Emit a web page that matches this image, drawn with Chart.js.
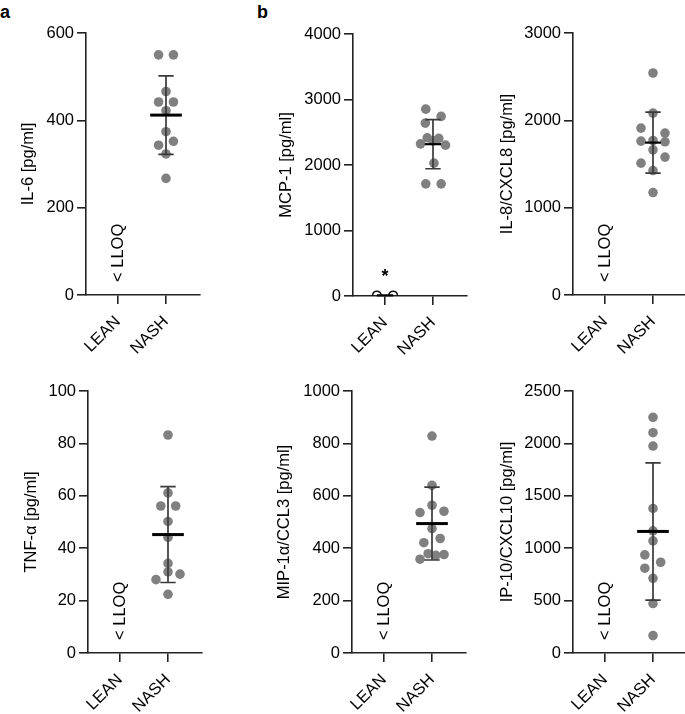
<!DOCTYPE html>
<html><head><meta charset="utf-8">
<script src="https://cdn.jsdelivr.net/npm/chart.js@4.4.0/dist/chart.umd.min.js"></script>
<style>
body{margin:0;background:#fff;}
#wrap{position:relative;width:685px;height:714px;overflow:hidden;background:#fff;font-family:"Liberation Sans",Arial,sans-serif;}
.panel{position:absolute;}
.lab{position:absolute;font-weight:bold;font-size:18px;line-height:18px;color:#000;}
</style></head><body><div id="wrap">
<div class="lab" style="left:0px;top:3px">a</div>
<div class="lab" style="left:257px;top:3px">b</div>
</div>
<script>
// ---------- data ----------
const groups = ['LEAN', 'NASH'];

const il6Nash   = [550, 550, 466, 442, 442, 422, 374, 343, 352, 323, 267];
const il6Spread = [-0.155, 0.155, 0, -0.155, 0.155, 0, 0, -0.155, 0.155, 0, 0];
const il6Mean   = [null, 412];
const il6Sd     = [null, 90];

const mcpLean       = [8, 8];
const mcpLeanSpread = [-0.17, 0.17];
const mcpNash   = [2853, 2742, 2640, 2415, 2406, 2370, 2323, 2303, 2028, 1712, 1712];
const mcpSpread = [-0.15, 0.17, -0.16, -0.12, 0.12, 0, -0.26, 0.26, 0.02, -0.15, 0.17];
const mcpMean   = [10, 2318];
const mcpSd     = [0, 375];

const il8Nash   = [2542, 2083, 1911, 1854, 1762, 1769, 1754, 1662, 1579, 1510, 1425, 1173];
const il8Spread = [0, 0, -0.25, 0.25, -0.25, 0, 0.25, 0, 0.25, -0.25, 0, 0];
const il8Mean   = [null, 1745];
const il8Sd     = [null, 350];

const tnfNash   = [83.2, 61.1, 56.1, 56.1, 50.2, 44.1, 34.2, 31.0, 30.1, 28.0, 22.4];
const tnfSpread = [0, 0, -0.15, 0.16, 0, 0, 0, 0, 0.25, -0.25, 0];
const tnfMean   = [null, 45.2];
const tnfSd     = [null, 18.3];

const mipNash   = [828, 640, 564, 536, 541, 475, 421, 437, 379, 373, 376, 358];
const mipSpread = [0, 0, 0, -0.25, 0.25, 0, -0.17, 0.17, -0.08, 0.08, 0.25, -0.25];
const mipMean   = [null, 494];
const mipSd     = [null, 139];

const ipNash    = [2249, 2102, 1975, 1379, 1165, 1070, 936, 866, 809, 713, 472, 166];
const ipSpread  = [0, 0, 0, 0, 0, 0, -0.17, 0.16, -0.17, 0, 0, 0];
const ipMean    = [null, 1160];
const ipSd      = [null, 655];

// ---------- layout / style ----------
const FONT = {family: '"Liberation Sans", Arial, sans-serif', size: 16.5};
const PX_PER_UNIT = 48, PLOT_W = 114, X_AXIS_H = 72, PAD_TOP = 14, PAD_RIGHT = 3;

const panels = [
  {title: 'IL-6 [pg/ml]', max: 600, step: 200, axisX: 86, top: 33, bottom: 295, titleD: 57,
   nash: il6Nash, spread: il6Spread, mean: il6Mean, sd: il6Sd, barHalf: 0.33, barW: 3, lloq: true},
  {title: 'MCP-1 [pg/ml]', max: 4000, step: 1000, axisX: 353, top: 34, bottom: 296, titleD: 66,
   nash: mcpNash, spread: mcpSpread, mean: mcpMean, sd: mcpSd, barHalf: 0.17, barW: 2.2, lloq: false, star: true,
   lean: mcpLean, leanSpread: mcpLeanSpread},
  {title: 'IL-8/CXCL8 [pg/ml]', max: 3000, step: 1000, axisX: 573, top: 33, bottom: 295, titleD: 65,
   nash: il8Nash, spread: il8Spread, mean: il8Mean, sd: il8Sd, barHalf: 0.165, barW: 2.2, lloq: true},
  {title: 'TNF-\u03b1 [pg/ml]', max: 100, step: 20, axisX: 88, top: 391, bottom: 653, titleD: 56,
   nash: tnfNash, spread: tnfSpread, mean: tnfMean, sd: tnfSd, barHalf: 0.33, barW: 3, lloq: true},
  {title: 'MIP-1\u03b1/CCL3 [pg/ml]', max: 1000, step: 200, axisX: 352, top: 391, bottom: 653, titleD: 67,
   nash: mipNash, spread: mipSpread, mean: mipMean, sd: mipSd, barHalf: 0.33, barW: 3, lloq: true},
  {title: 'IP-10/CXCL10 [pg/ml]', max: 2500, step: 500, axisX: 573, top: 391, bottom: 653, titleD: 65,
   nash: ipNash, spread: ipSpread, mean: ipMean, sd: ipSd, barHalf: 0.33, barW: 3, lloq: true},
];

const meanSdPlugin = {
  id: 'meanSd',
  afterDatasetsDraw(chart, args, o) {
    const {ctx} = chart; const x = chart.scales.x, y = chart.scales.y;
    ctx.save();
    o.mean.forEach((m, i) => {
      if (m == null) return;
      const cx = x.getPixelForValue(i + 1);
      const s = o.sd[i];
      if (s > 0) {
        const yt = y.getPixelForValue(m + s), yb = y.getPixelForValue(m - s);
        const cw = x.getPixelForValue(i + 1 + o.capHalf) - cx;
        ctx.strokeStyle = '#3a3a3a'; ctx.lineWidth = 1.7;
        ctx.beginPath();
        ctx.moveTo(cx, yt); ctx.lineTo(cx, yb);
        ctx.moveTo(cx - cw, yt); ctx.lineTo(cx + cw, yt);
        ctx.moveTo(cx - cw, yb); ctx.lineTo(cx + cw, yb);
        ctx.stroke();
      }
      const bw = x.getPixelForValue(i + 1 + o.barHalf) - cx;
      const ym = y.getPixelForValue(m);
      ctx.strokeStyle = '#000'; ctx.lineWidth = o.barW;
      ctx.beginPath(); ctx.moveTo(cx - bw, ym); ctx.lineTo(cx + bw, ym); ctx.stroke();
    });
    const lx = x.getPixelForValue(1), y0 = y.getPixelForValue(0);
    ctx.fillStyle = '#000';
    if (o.lloq) {
      ctx.save();
      ctx.translate(lx, y0 - 13);
      ctx.rotate(-Math.PI / 2);
      ctx.font = FONT.size + 'px ' + FONT.family;
      ctx.textAlign = 'left'; ctx.textBaseline = 'middle';
      ctx.fillText('< LLOQ', 0, 0);
      ctx.restore();
    }
    if (o.star) {
      ctx.font = 'bold 18px ' + FONT.family;
      ctx.textAlign = 'center'; ctx.textBaseline = 'alphabetic';
      ctx.fillText('*', lx, y0 - 14);
    }
    ctx.restore();
  }
};

const wrap = document.getElementById('wrap');
panels.forEach(P => {
  const W = Math.round(P.titleD + 4 + FONT.size * 1.2 / 2);
  const cl = P.axisX - W, ct = P.top - PAD_TOP;
  const cw = W + PLOT_W + PAD_RIGHT, ch = PAD_TOP + (P.bottom - P.top) + X_AXIS_H;
  const div = document.createElement('div');
  div.className = 'panel';
  div.style.left = cl + 'px'; div.style.top = ct + 'px';
  div.style.width = cw + 'px'; div.style.height = ch + 'px';
  const cv = document.createElement('canvas');
  cv.width = cw; cv.height = ch; cv.style.width = cw + 'px'; cv.style.height = ch + 'px';
  div.appendChild(cv); wrap.appendChild(div);

  const datasets = [{
    data: P.nash.map((v, i) => ({x: 2 + P.spread[i], y: v})),
    pointRadius: 4.8, pointBackgroundColor: '#808080', pointBorderWidth: 0, showLine: false
  }];
  if (P.lean) {
    datasets.push({
      data: P.lean.map((v, i) => ({x: 1 + P.leanSpread[i], y: v})),
      pointRadius: 4.3, pointBackgroundColor: 'rgba(255,255,255,0)', pointBorderColor: '#111',
      pointBorderWidth: 1.6, showLine: false
    });
  }
  const axisCommon = {
    grid: {display: true, drawOnChartArea: false, drawTicks: true, tickLength: 9, color: '#222', lineWidth: 1.6},
    border: {display: true, color: '#222', width: 1.6}
  };
  new Chart(cv, {
    type: 'scatter',
    data: {datasets},
    plugins: [meanSdPlugin],
    options: {
      responsive: false, animation: false, events: [],
      layout: {padding: {top: PAD_TOP, right: PAD_RIGHT, left: 0, bottom: 0}, autoPadding: false},
      plugins: {
        legend: {display: false}, tooltip: {enabled: false},
        meanSd: {mean: P.mean, sd: P.sd, barHalf: P.barHalf, capHalf: 0.16, barW: P.barW, lloq: P.lloq, star: !!P.star}
      },
      scales: {
        x: Object.assign({
          type: 'linear', min: 1 / 3, max: 1 / 3 + PLOT_W / PX_PER_UNIT,
          afterBuildTicks: s => { s.ticks = [{value: 1}, {value: 2}]; },
          afterFit: s => { s.height = X_AXIS_H; },
          ticks: {callback: v => groups[v - 1], minRotation: 45, maxRotation: 45, autoSkip: false,
                  color: '#000', font: FONT, padding: 8}
        }, axisCommon),
        y: Object.assign({
          type: 'linear', min: 0, max: P.max,
          afterFit: s => { s.width = W; },
          ticks: {stepSize: P.step, color: '#000', font: FONT, padding: 3, callback: v => String(v)},
          title: {display: true, text: P.title, color: '#000', font: FONT, padding: {top: 4, bottom: 4}}
        }, axisCommon)
      }
    }
  });
});
</script>
</body></html>
